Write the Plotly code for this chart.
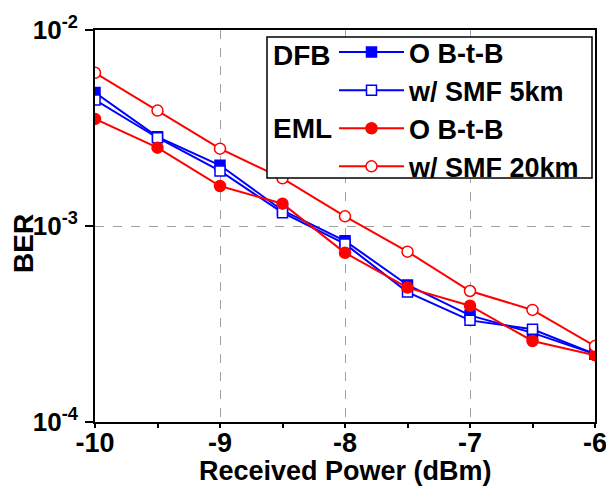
import plotly.graph_objects as go

# Received optical power (dBm)
power = [-10, -9.5, -9, -8.5, -8, -7.5, -7, -6.5, -6]

# Measured bit-error rates
dfb_btb = [4.8e-3, 2.85e-3, 2.04e-3, 1.2e-3, 8.4e-4, 5.0e-4, 3.5e-4, 2.85e-4, 2.22e-4]
dfb_smf5 = [4.4e-3, 2.82e-3, 1.91e-3, 1.17e-3, 8.1e-4, 4.6e-4, 3.3e-4, 2.97e-4, 2.22e-4]
eml_btb = [3.52e-3, 2.51e-3, 1.60e-3, 1.30e-3, 7.3e-4, 4.85e-4, 3.92e-4, 2.59e-4, 2.19e-4]
eml_smf20 = [6.05e-3, 3.88e-3, 2.48e-3, 1.75e-3, 1.12e-3, 7.4e-4, 4.66e-4, 3.73e-4, 2.44e-4]

x_ticks = [-10, -9, -8, -7, -6]
y_ticks = [1e-4, 1e-3, 1e-2]
y_tick_text = ["10<sup>-4</sup>", "10<sup>-3</sup>", "10<sup>-2</sup>"]

FONT = "Liberation Sans, Arial, sans-serif"
BLUE = "#0000FF"
RED = "#FF0000"

fig = go.Figure()

series = [
    ("O B-t-B", dfb_btb, BLUE, "square", BLUE, 10),
    ("w/ SMF 5km", dfb_smf5, BLUE, "square", "white", 10),
    ("O B-t-B", eml_btb, RED, "circle", RED, 11),
    ("w/ SMF 20km", eml_smf20, RED, "circle", "white", 11),
]
for name, vals, col, sym, fill, size in series:
    fig.add_trace(go.Scatter(
        x=power, y=vals, mode="lines+markers", name=name,
        line=dict(color=col, width=2),
        marker=dict(symbol=sym, size=size, color=fill,
                    line=dict(color=col, width=1.5)),
    ))

L, R, T, B = 95, 11, 30, 64
W, H = 606, 486
pw, ph = W - L - R, H - T - B


def px(xp):
    return (xp - L) / pw


def py(yp):
    return (H - B - yp) / ph


# legend frame and group labels
fig.add_shape(type="rect", xref="paper", yref="paper",
              x0=px(267), x1=px(592), y0=py(178), y1=py(37),
              line=dict(color="black", width=1.5), fillcolor="white",
              layer="above")
for label, yy in [("DFB", 55), ("EML", 128)]:
    fig.add_annotation(text="<b>%s</b>" % label, xref="paper", yref="paper",
                       x=px(271), y=py(yy), xanchor="left", yanchor="middle",
                       showarrow=False, font=dict(family=FONT, size=28, color="black"))

# axis titles
fig.add_annotation(text="<b>Received Power (dBm)</b>", xref="paper", yref="paper",
                   x=0.5, y=py(471), xanchor="center", yanchor="middle",
                   showarrow=False, font=dict(family=FONT, size=27, color="black"))
fig.add_annotation(text="<b>BER</b>", xref="paper", yref="paper",
                   x=px(23), y=py(244), xanchor="center", yanchor="middle",
                   textangle=-90, showarrow=False,
                   font=dict(family=FONT, size=28, color="black"))

fig.update_layout(
    width=W, height=H,
    margin=dict(l=L, r=R, t=T, b=B, autoexpand=False),
    paper_bgcolor="white", plot_bgcolor="white",
    font=dict(family=FONT, color="black"),
    showlegend=True,
    legend=dict(x=px(334), y=py(28), xanchor="left", yanchor="top",
                bgcolor="rgba(0,0,0,0)", borderwidth=0,
                font=dict(family=FONT, size=27, color="black", weight="bold"),
                itemwidth=65, tracegroupgap=0),
    xaxis=dict(
        range=[-10, -6], tickvals=x_ticks, ticktext=[str(v) for v in x_ticks],
        automargin=False, ticklabeloverflow="allow", ticklabelstandoff=-8,
        showline=True, linecolor="black", linewidth=2, mirror=True,
        ticks="outside", ticklen=4, tickwidth=1.5, tickcolor="black",
        minor=dict(dtick=0.5, ticks="outside", ticklen=4, tickwidth=1.5, tickcolor="black", showgrid=False),
        showgrid=True, gridcolor="#A0A0A0", griddash="dash", gridwidth=1,
        zeroline=False,
        tickfont=dict(family=FONT, size=27, color="black", weight="bold"),
    ),
    yaxis=dict(
        type="log", range=[-4, -2], tickvals=y_ticks, ticktext=y_tick_text,
        automargin=False, ticklabelstandoff=2,
        showline=True, linecolor="black", linewidth=2, mirror=True,
        ticks="outside", ticklen=8, tickwidth=1.5, tickcolor="black",
        showgrid=True, gridcolor="#A0A0A0", griddash="dash", gridwidth=1,
        zeroline=False,
        tickfont=dict(family=FONT, size=26, color="black", weight="bold"),
    ),
)

fig.write_html("out.html")
